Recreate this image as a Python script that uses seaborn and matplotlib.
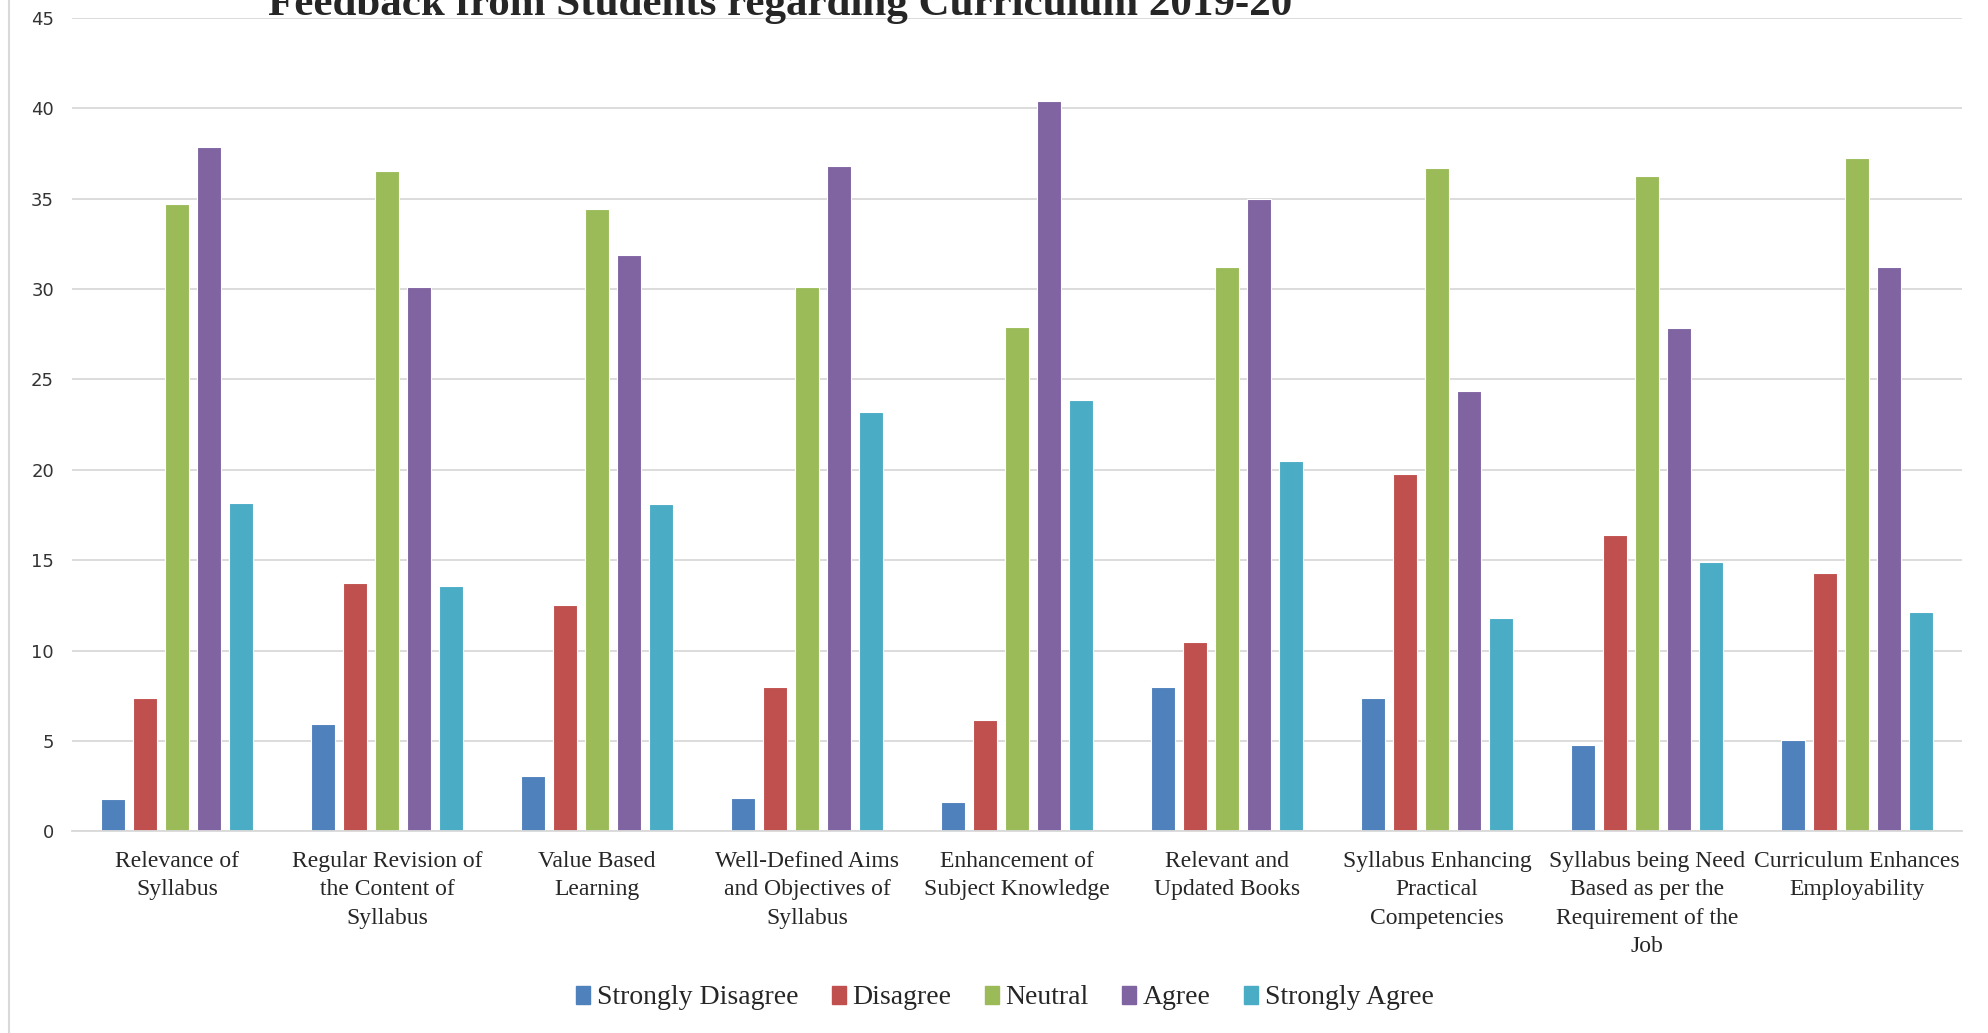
import pandas as pd
import numpy as np
import matplotlib.pyplot as plt
from matplotlib.lines import Line2D
import seaborn as sns

# data
aspects = [
    "Relevance of\nSyllabus",
    "Regular Revision of\nthe Content of\nSyllabus",
    "Value Based\nLearning",
    "Well-Defined Aims\nand Objectives of\nSyllabus",
    "Enhancement of\nSubject Knowledge",
    "Relevant and\nUpdated Books",
    "Syllabus Enhancing\nPractical\nCompetencies",
    "Syllabus being Need\nBased as per the\nRequirement of the\nJob",
    "Curriculum Enhances\nEmployability",
]
responses = ["Strongly Disagree", "Disagree", "Neutral", "Agree", "Strongly Agree"]
strongly_disagree = [1.8, 5.95, 3.05, 1.82, 1.61, 8.0, 7.37, 4.8, 5.07]
disagree = [7.4, 13.75, 12.52, 8.0, 6.15, 10.48, 19.76, 16.4, 14.3]
neutral = [34.72, 36.5, 34.4, 30.13, 27.9, 31.2, 36.67, 36.25, 37.24]
agree = [37.83, 30.13, 31.9, 36.78, 40.42, 35.0, 24.37, 27.83, 31.2]
strongly_agree = [18.17, 13.57, 18.1, 23.22, 23.85, 20.48, 11.8, 14.9, 12.15]
colors = ["#4F81BD", "#C0504D", "#9BBB59", "#8064A2", "#4BACC6"]

series = [strongly_disagree, disagree, neutral, agree, strongly_agree]
df = pd.DataFrame({
    "aspect": aspects * len(responses),
    "response": np.repeat(responses, len(aspects)),
    "value": np.concatenate(series),
})

sns.set_style("white")
plt.rcParams["font.family"] = ["Liberation Serif", "DejaVu Serif"]

fig = plt.figure(figsize=(19.88, 10.33), dpi=100)
ax = fig.add_axes([72 / 1988, 1 - 831.4 / 1033, 1890 / 1988, (831.4 - 17.8) / 1033])

sns.barplot(data=df, x="aspect", y="value", hue="response", order=aspects,
            hue_order=responses, palette=colors, width=0.762, gap=0.22,
            edgecolor="white", linewidth=0.8, saturation=1, ax=ax, legend=True)

ax.set_ylim(0, 45)
ax.set_xlim(-0.5, len(aspects) - 0.5)
ax.set_yticks(range(0, 46, 5))
ax.yaxis.grid(True, color="#D9D9D9", linewidth=1.3)
ax.set_axisbelow(True)
for s in ["top", "right", "left"]:
    ax.spines[s].set_visible(False)
ax.spines["bottom"].set_color("#D9D9D9")
ax.spines["bottom"].set_linewidth(1.3)
ax.set_xlabel("")
ax.set_ylabel("")
ax.tick_params(axis="x", length=0, pad=14, labelsize=17)
ax.tick_params(axis="y", length=0, pad=13)
for lab in ax.get_yticklabels():
    lab.set_fontfamily("DejaVu Sans")
    lab.set_fontsize(13)
    lab.set_color("#333333")
for lab in ax.get_xticklabels():
    lab.set_linespacing(1.46)

# legend along the bottom
ax.get_legend().remove()
handles = [plt.Rectangle((0, 0), 1, 1, color=c) for c in colors]
fig.legend(handles, responses, loc="center", bbox_to_anchor=(1005 / 1988, 1 - 998 / 1033),
           ncol=5, frameon=False, fontsize=20, handlelength=0.5, handleheight=0.6,
           handletextpad=0.25, columnspacing=1.2)

# title, clipped by the top edge as in the source
fig.text(780 / 1988, 1 - 15 / 1033, "Feedback from Students regarding Curriculum 2019-20",
         ha="center", va="baseline", fontsize=31, fontweight="bold")

# chart border on the left
fig.add_artist(Line2D([9 / 1988, 9 / 1988], [0, 1], color="#D9D9D9", linewidth=1.5,
                      transform=fig.transFigure))

fig.savefig("out.png", dpi=100)
